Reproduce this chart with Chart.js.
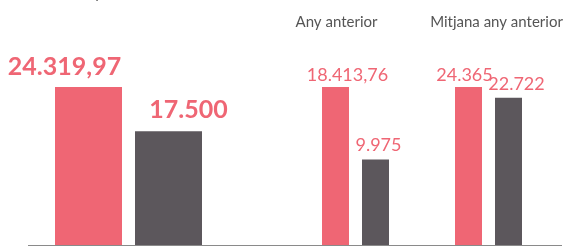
<!DOCTYPE html>
<html>
<head>
<meta charset="utf-8">
<script src="https://cdn.jsdelivr.net/npm/chart.js@4"></script>
<style>
  html, body { margin: 0; padding: 0; background: #fff; overflow: hidden; }
  #wrap { position: relative; width: 566px; height: 246px; }
  #wrap canvas { position: absolute; left: 0; top: 0; }
</style>
</head>
<body>
<div id="wrap">
  <canvas id="grup0" width="566" height="246"></canvas>
  <canvas id="grup1" width="566" height="246"></canvas>
  <canvas id="grup2" width="566" height="246"></canvas>
</div>
<script>
// Dades del gràfic
const categories = ['Any actual', 'Any anterior', 'Mitjana any anterior'];
const seriePrincipal = [24319.97, 18413.76, 24365];
const serieComparacio = [17500, 9975, 22722];

const ROSA = '#EF6674';
const GRIS = '#5C575C';
const FONT = 'Lato, "Open Sans", sans-serif';

// Format amb punt de milers i coma decimal (9.975, 24.319,97)
function formatValor(v) {
    return v.toLocaleString('de-DE', { maximumFractionDigits: 2 });
}

// Connector propi: etiqueta de valor sobre cada barra i el títol del grup
const etiquetesPlugin = {
    id: 'etiquetes',
    afterDatasetsDraw(chart, args, opts) {
        const ctx = chart.ctx;
        const area = chart.chartArea;
        ctx.save();
        ctx.textAlign = 'center';
        ctx.textBaseline = 'alphabetic';

        chart.data.datasets.forEach((ds, i) => {
            const meta = chart.getDatasetMeta(i);
            meta.data.forEach((bar, j) => {
                ctx.font = opts.fontValor;
                ctx.fillStyle = ROSA;
                ctx.fillText(formatValor(ds.data[j]), bar.x + opts.desplX[i], bar.y - opts.separacio[i]);
            });
        });

        // títol del grup
        ctx.font = opts.fontTitol;
        ctx.fillStyle = '#555555';
        ctx.fillText(chart.data.labels[0], (area.left + area.right) / 2 + opts.titolX, opts.titolY);
        ctx.restore();
    }
};

// Configuració de cada grup (àrea i estil)
const grups = [
    { esq: 28, dre: 337, cat: 160 / 201, barra: 67 / 80,
      fontValor: 'bold 25px ' + FONT, desplX: [-24, 20], separacio: [12, 13], titolX: -18, titolY: -2 },
    { esq: 229, dre: 84, cat: 80 / 253, barra: 27 / 40,
      fontValor: '18px ' + FONT, desplX: [12, 3], separacio: [6, 8], titolX: -19, titolY: 27 },
    { esq: 416, dre: 5, cat: 80 / 145, barra: 27 / 40,
      fontValor: '18px ' + FONT, desplX: [-4, 8], separacio: [6, 8], titolX: 8, titolY: 27 }
];

grups.forEach((g, i) => {
    const ctx = document.getElementById('grup' + i).getContext('2d');
    new Chart(ctx, {
        type: 'bar',
        data: {
            labels: [categories[i]],
            datasets: [
                { label: 'Principal', data: [seriePrincipal[i]], backgroundColor: ROSA },
                { label: 'Comparació', data: [serieComparacio[i]], backgroundColor: GRIS }
            ]
        },
        options: {
            responsive: false,
            animation: false,
            devicePixelRatio: 1,
            categoryPercentage: g.cat,
            barPercentage: g.barra,
            layout: { padding: { left: g.esq, right: g.dre, top: 87, bottom: 1 } },
            scales: {
                x: {
                    grid: { display: false, drawTicks: false },
                    ticks: { display: false },
                    border: { display: true, color: '#8A8A8A', width: 1 }
                },
                y: {
                    display: false,
                    min: 0,
                    max: Math.max(seriePrincipal[i], serieComparacio[i])
                }
            },
            plugins: {
                legend: { display: false },
                tooltip: { enabled: false },
                etiquetes: {
                    fontValor: g.fontValor,
                    fontTitol: '15px ' + FONT,
                    desplX: g.desplX,
                    separacio: g.separacio,
                    titolX: g.titolX,
                    titolY: g.titolY
                }
            }
        },
        plugins: [etiquetesPlugin]
    });
});
</script>
</body>
</html>
